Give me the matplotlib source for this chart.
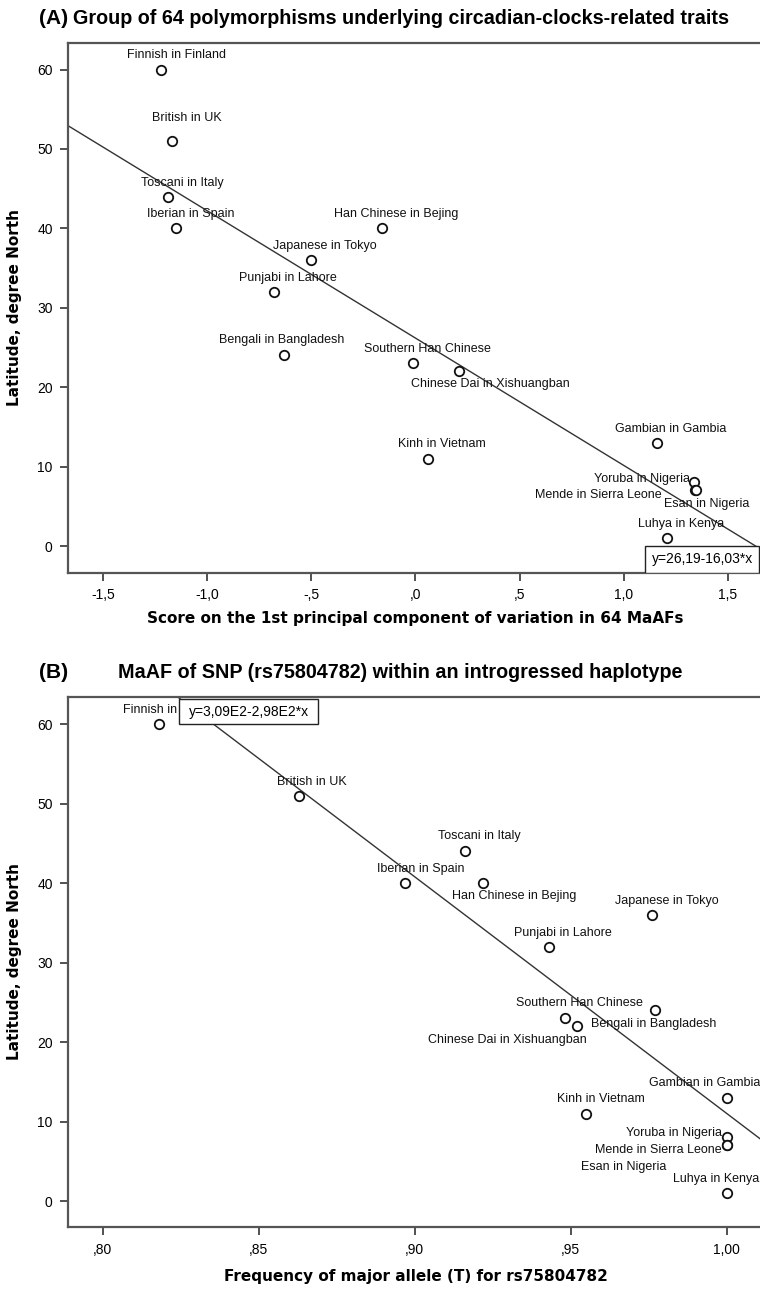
import matplotlib
matplotlib.use("Agg")
import matplotlib.pyplot as plt
from matplotlib.patches import Rectangle

plt.rcParams['font.family'] = ['Liberation Sans', 'DejaVu Sans']

populations = ["Finnish in Finland", "British in UK", "Toscani in Italy",
               "Iberian in Spain", "Han Chinese in Bejing", "Japanese in Tokyo",
               "Punjabi in Lahore", "Bengali in Bangladesh", "Southern Han Chinese",
               "Chinese Dai in Xishuangban", "Kinh in Vietnam", "Gambian in Gambia",
               "Yoruba in Nigeria", "Mende in Sierra Leone", "Esan in Nigeria",
               "Luhya in Kenya"]
latitude = [60, 51, 44, 40, 40, 36, 32, 24, 23, 22, 11, 13, 8, 7, 7, 1]
pc_score = [-1.22, -1.17, -1.19, -1.15, -0.16, -0.50, -0.68, -0.63, -0.01,
            0.21, 0.06, 1.16, 1.34, 1.345, 1.35, 1.21]
maf = [0.818, 0.863, 0.916, 0.897, 0.922, 0.976, 0.943, 0.977, 0.948,
       0.952, 0.955, 1.00, 1.00, 1.00, 1.00, 1.00]

fit_a = (26.19, -16.03)
fit_b = (309.0, -298.0)

xticks_a = [-1.5, -1.0, -0.5, 0.0, 0.5, 1.0, 1.5]
xlabels_a = ["-1,5", "-1,0", "-,5", ",0", ",5", "1,0", "1,5"]
xticks_b = [0.80, 0.85, 0.90, 0.95, 1.00]
xlabels_b = [",80", ",85", ",90", ",95", "1,00"]
yticks = [0, 10, 20, 30, 40, 50, 60]

# label offsets in pixels (dx, dy, ha)
offs_a = [(15, 15, "center"), (15, 23, "center"), (15, 14, "center"), (15, 14, "center"),
          (14, 14, "center"), (14, 14, "center"), (14, 14, "center"), (-3, 15, "center"),
          (14, 14, "center"), (31, -13, "center"), (14, 15, "center"), (14, 14, "center"),
          (-4, 3, "right"), (-34, -5, "right"), (10, -14, "center"), (14, 14, "center")]
offs_b = [(14, 14, "center"), (13, 14, "center"), (15, 15, "center"), (15, 14, "center"),
          (31, -13, "center"), (15, 14, "center"), (14, 14, "center"), (-1, -14, "center"),
          (15, 15, "center"), (-70, -14, "center"), (14, 15, "center"), (-22, 15, "center"),
          (-5, 4, "right"), (-5, -5, "right"), (-103, -22, "center"), (-11, 14, "center")]

W, H = 760, 1290
fig = plt.figure(figsize=(W / 100, H / 100), dpi=100)


def px_axes(left, top, right, bottom):
    return fig.add_axes([left / W, 1 - bottom / H, (right - left) / W, (bottom - top) / H])


def panel(ax, xs, offs, fit, xlim, ylim, xticks, xlabels):
    ax.set_xlim(*xlim)
    ax.set_ylim(*ylim)
    ax.plot(list(xlim), [fit[0] + fit[1] * x for x in xlim], color="#333333", lw=1.0, zorder=2)
    ax.plot(xs, latitude, "o", mfc="white", mec="#111111", mew=1.3, ms=6.8, zorder=3)
    for name, x, y, (dx, dy, ha) in zip(populations, xs, latitude, offs):
        ax.annotate(name, (x, y), xytext=(dx, dy), textcoords="offset pixels",
                    ha=ha, va="center", fontsize=9, color="#111111", zorder=4)
    ax.set_xticks(xticks)
    ax.set_xticklabels(xlabels)
    ax.set_yticks(yticks)
    ax.tick_params(direction="out", length=6, width=1.2, color="#333333",
                   labelsize=10, pad=5)
    for s in ["top", "bottom", "left"]:
        ax.spines[s].set_color("#555555")
        ax.spines[s].set_linewidth(1.6)
    ax.spines["right"].set_visible(False)


ax1 = px_axes(68, 43, 760, 573)
panel(ax1, pc_score, offs_a, fit_a, (-1.6686, 1.6551), (-3.40, 63.35), xticks_a, xlabels_a)
ax1.add_patch(Rectangle((0.834, 0.0), 0.1646, 0.051, transform=ax1.transAxes,
                        facecolor="white", edgecolor="#222222", lw=1.0, zorder=5))
ax1.text(0.9163, 0.026, "y=26,19-16,03*x", transform=ax1.transAxes, ha="center",
         va="center", fontsize=10, zorder=6)

ax2 = px_axes(68, 697.3, 760, 1227.3)
panel(ax2, maf, offs_b, fit_b, (0.7889, 1.0106), (-3.31, 63.40), xticks_b, xlabels_b)
ax2.add_patch(Rectangle((0.161, 0.949), 0.1998, 0.0478, transform=ax2.transAxes,
                        facecolor="white", edgecolor="#222222", lw=1.0, zorder=5))
ax2.text(0.261, 0.973, "y=3,09E2-2,98E2*x", transform=ax2.transAxes, ha="center",
         va="center", fontsize=10, zorder=6)

# titles
fig.text(38.8 / W, 1 - 18 / H, "(A)", fontsize=15, fontweight="bold", va="center")
fig.text(72.7 / W, 1 - 18 / H, "Group of 64 polymorphisms underlying circadian-clocks-related traits",
         fontsize=14.2, fontweight="bold", va="center")
fig.text(38.5 / W, 1 - 673 / H, "(B)", fontsize=15, fontweight="bold", va="center")
fig.text(117.8 / W, 1 - 673 / H, "MaAF of SNP (rs75804782) within an introgressed haplotype",
         fontsize=14.2, fontweight="bold", va="center")

# axis labels (wide bold face, like the original)
lab = dict(fontsize=11, fontweight="bold", ha="center", va="center", family="DejaVu Sans")
fig.text(415 / W, 1 - 619 / H, "Score on the 1st principal component of variation in 64 MaAFs", **lab)
fig.text(416 / W, 1 - 1277 / H, "Frequency of major allele (T) for rs75804782", **lab)
fig.text(15 / W, 1 - 308 / H, "Latitude, degree North", rotation=90, **lab)
fig.text(15 / W, 1 - 962 / H, "Latitude, degree North", rotation=90, **lab)

fig.savefig("out.png", dpi=100)
